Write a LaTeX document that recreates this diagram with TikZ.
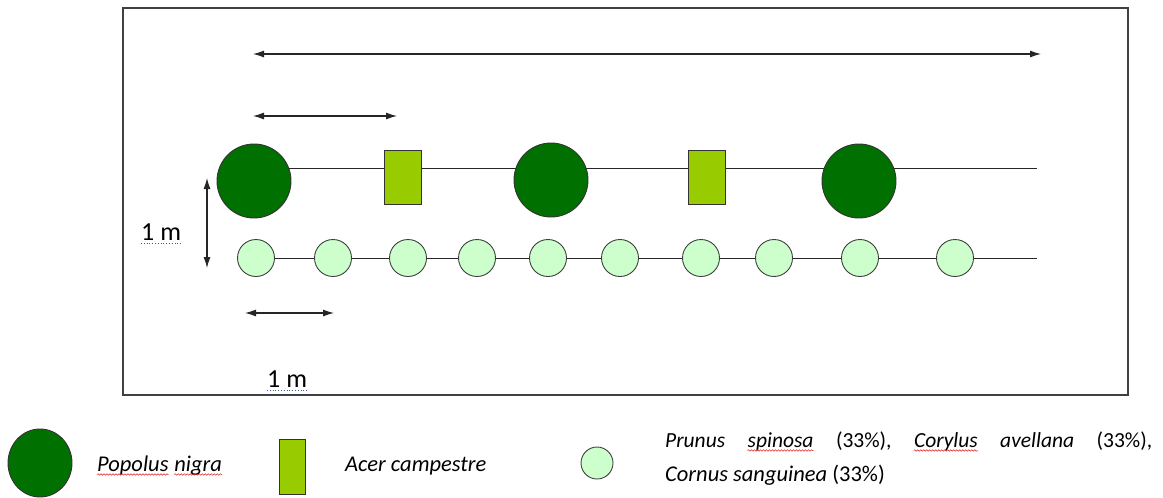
\documentclass[tikz,border=0pt]{standalone}
\usepackage{fontspec}
\setmainfont{Carlito}
\usetikzlibrary{arrows.meta,decorations.pathmorphing,shapes.geometric}
\definecolor{poplar}{RGB}{0,112,0}
\definecolor{maple}{RGB}{153,204,0}
\definecolor{shrub}{RGB}{204,255,204}
\definecolor{spell}{RGB}{220,30,30}
\definecolor{gram}{RGB}{60,90,170}
\newlength{\wordsum}
\newlength{\wordgap}
\tikzset{
  bigtree/.style={circle,draw=black!80,fill=poplar,line width=0.9pt,minimum size=74pt,inner sep=0pt},
  maplebox/.style={rectangle,draw=black!80,fill=maple,line width=0.9pt,minimum width=37pt,minimum height=54pt,inner sep=0pt},
  shrubnode/.style={circle,draw=black!75,fill=shrub,line width=0.9pt,minimum size=37pt,inner sep=0pt},
  rowline/.style={draw=black!85,line width=0.9pt},
  dimarrow/.style={draw=black!85,line width=1.1pt,{Latex[length=11pt,width=7pt]}-{Latex[length=11pt,width=7pt]}},
  frame/.style={draw=black!75,line width=1.2pt},
  lbl/.style={font=\fontsize{21.5}{25}\selectfont,inner sep=0pt,anchor=base west},
  biglbl/.style={font=\fontsize{22.5}{27}\selectfont\itshape,inner sep=0pt,anchor=base west},
  mlbl/.style={font=\fontsize{26}{30}\selectfont,inner sep=0pt,anchor=base west},
  spellline/.style={draw=spell,line width=0.5pt,decorate,decoration={snake,segment length=3pt,amplitude=0.8pt}},
  gramline/.style={draw=gram,line width=0.8pt,dotted}
}
\begin{document}
\settowidth{\wordsum}{\fontsize{21.5}{25}\selectfont\itshape Prunus\/spinosa\/\upshape(33\%),\itshape Corylus\/avellana\/\upshape(33\%),}
\setlength{\wordgap}{\dimexpr(485pt-\wordsum)/5\relax}
\begin{tikzpicture}[x=1pt,y=-1pt]
\useasboundingbox (0,0) rectangle (1163,498);
% frame
\coordinate (f1) at (123,8);
\coordinate (f2) at (1128,395);
\draw[frame] (f1) rectangle (f2);
% row lines
\coordinate (r1s) at (254,168);
\coordinate (r1e) at (1037,168);
\coordinate (r2s) at (256,258);
\coordinate (r2e) at (1037,258);
\draw[rowline] (r1s) -- (r1e);
\draw[rowline] (r2s) -- (r2e);
% trees row
\node[bigtree] (p1) at (254,181) {};
\node[maplebox] (a1) at (403,177) {};
\node[bigtree] (p2) at (551,180) {};
\node[maplebox] (a2) at (707,177) {};
\node[bigtree] (p3) at (859,181) {};
% shrub row
\foreach \x [count=\i] in {256,333,408,477,548,620,701,774,860,955}
  \node[shrubnode] (s\i) at (\x,258) {};
% dimension arrows
\coordinate (t1) at (253,54);
\coordinate (t2) at (1041,54);
\draw[dimarrow] (t1) -- (t2);
\coordinate (u1) at (253,116);
\coordinate (u2) at (397,116);
\draw[dimarrow] (u1) -- (u2);
\coordinate (v1) at (207,178);
\coordinate (v2) at (207,268);
\draw[dimarrow] (v1) -- (v2);
\coordinate (w1) at (245,313);
\coordinate (w2) at (334,313);
\draw[dimarrow] (w1) -- (w2);
% 1 m labels
\node[mlbl] (m1) at (141,240) {1 m};
\draw[gramline] ([yshift=-3pt]m1.base west) -- ([yshift=-3pt]m1.base east);
\node[mlbl] (m2) at (267,387) {1 m};
\draw[gramline] ([yshift=-3pt]m2.base west) -- ([yshift=-3pt]m2.base east);
% legend
\node[ellipse,draw=black!80,fill=poplar,line width=0.9pt,minimum width=64pt,minimum height=68pt,inner sep=0pt] (lp) at (40,463) {};
\node[biglbl] (ln1) at (97,471) {Popolus};
\node[biglbl] (ln2) at ([xshift=5.5pt]ln1.base east) {nigra};
\draw[spellline] ([yshift=-3.5pt]ln1.base west) -- ([yshift=-3.5pt]ln1.base east);
\draw[spellline] ([yshift=-3.5pt]ln2.base west) -- ([yshift=-3.5pt]ln2.base east);
\node[maplebox,minimum width=26pt,minimum height=55pt] (la) at (292,467) {};
\node[biglbl] (lat) at (345,471) {Acer campestre};
\node[shrubnode,minimum size=32pt] (ls) at (597,463) {};
\node[lbl] (lt1a) at (665,447) {\itshape Prunus\/};
\node[lbl] (lt1b) at ([xshift=\wordgap]lt1a.base east) {\itshape spinosa\/};
\node[lbl] (lt1c) at ([xshift=\wordgap]lt1b.base east) {(33\%),};
\node[lbl] (lt1d) at ([xshift=\wordgap]lt1c.base east) {\itshape Corylus\/};
\node[lbl] (lt1e) at ([xshift=\wordgap]lt1d.base east) {\itshape avellana\/};
\node[lbl] (lt1f) at ([xshift=\wordgap]lt1e.base east) {(33\%),};
\draw[spellline] ([yshift=-3.5pt]lt1b.base west) -- ([yshift=-3.5pt]lt1b.base east);
\draw[spellline] ([yshift=-3.5pt]lt1d.base west) -- ([yshift=-3.5pt]lt1d.base east);
\node[biglbl] (lt2) at (665,481) {Cornus sanguinea\/ \upshape(33\%)};
\end{tikzpicture}
\end{document}
